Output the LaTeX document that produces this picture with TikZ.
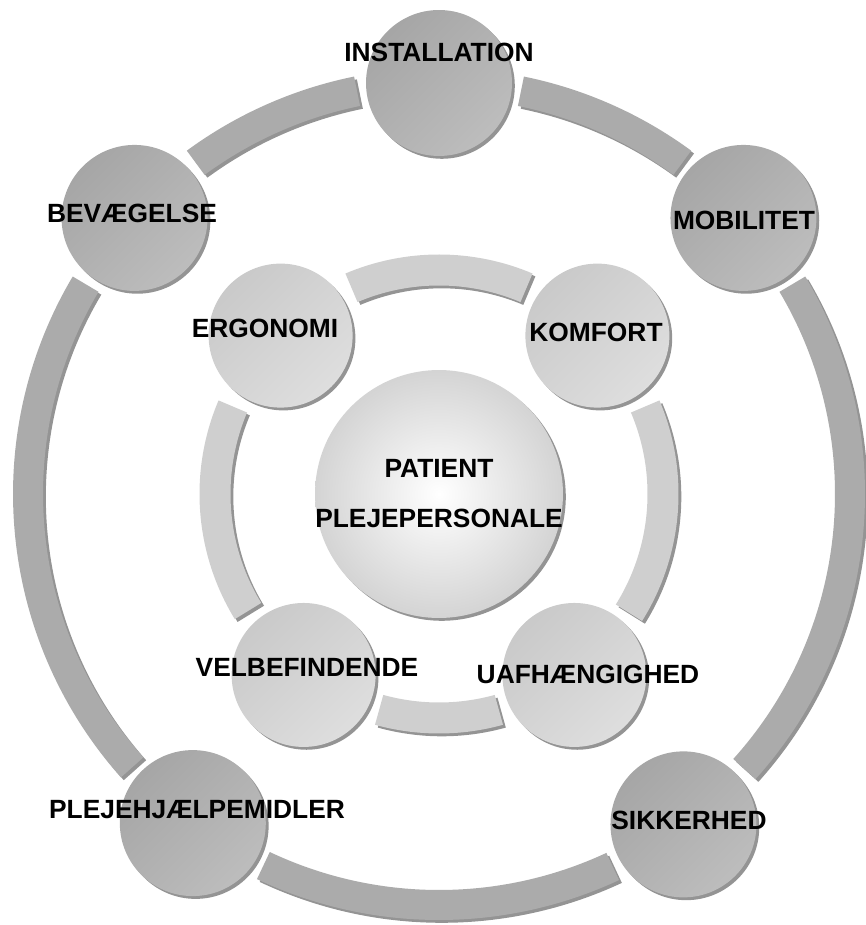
\documentclass[tikz,border=0pt]{standalone}
\usepackage{fontspec}
\setmainfont{Liberation Sans}
\usepackage{tikz}
\usetikzlibrary{shadows}

\begin{document}
\begin{tikzpicture}[
    x=0.02cm, y=0.02cm,
    font=\fontsize{15}{18}\selectfont\bfseries,
    skygge/.style={drop shadow={shadow xshift=1.6pt, shadow yshift=-1.6pt,
                   fill=black!60, opacity=0.7}},
    ydre/.style={circle, minimum size=2.92cm, inner sep=0pt, skygge,
                 top color=black!35, bottom color=black!26, shading angle=45},
    indre/.style={ydre, minimum size=2.88cm,
                  top color=black!21, bottom color=black!13, shading angle=45},
    midte/.style={circle, minimum size=4.96cm, inner sep=0pt, skygge,
                  inner color=white, outer color=black!17},
    ydrebue/.style={fill=black!33, skygge},
    indrebue/.style={fill=black!19, skygge},
    tekst/.style={text=black, inner sep=0pt}
  ]
    \useasboundingbox (-439,-431) rectangle (426,494);
    % ydre ring
    \fill[ydrebue] (53.7:426) arc[start angle=53.7, end angle=78.5, radius=426]
      -- (78.5:396) arc[start angle=78.5, end angle=53.7, radius=396] -- cycle;
    \fill[ydrebue] (101.5:426) arc[start angle=101.5, end angle=126.3, radius=426]
      -- (126.3:396) arc[start angle=126.3, end angle=101.5, radius=396] -- cycle;
    \fill[ydrebue] (149.3:426) arc[start angle=149.3, end angle=221.7, radius=426]
      -- (221.7:396) arc[start angle=221.7, end angle=149.3, radius=396] -- cycle;
    \fill[ydrebue] (244.7:426) arc[start angle=244.7, end angle=295, radius=426]
      -- (295:396) arc[start angle=295, end angle=244.7, radius=396] -- cycle;
    \fill[ydrebue] (318:426) arc[start angle=318, end angle=390.7, radius=426]
      -- (390.7:396) arc[start angle=390.7, end angle=318, radius=396] -- cycle;
    % indre ring
    \fill[indrebue] (67:239.5) arc[start angle=67, end angle=113, radius=239.5]
      -- (113:208.5) arc[start angle=113, end angle=67, radius=208.5] -- cycle;
    \fill[indrebue] (157:239.5) arc[start angle=157, end angle=211.5, radius=239.5]
      -- (211.5:208.5) arc[start angle=211.5, end angle=157, radius=208.5] -- cycle;
    \fill[indrebue] (254.5:239.5) arc[start angle=254.5, end angle=285.5, radius=239.5]
      -- (285.5:208.5) arc[start angle=285.5, end angle=254.5, radius=208.5] -- cycle;
    \fill[indrebue] (328:239.5) arc[start angle=328, end angle=383, radius=239.5]
      -- (383:208.5) arc[start angle=383, end angle=328, radius=208.5] -- cycle;
    \node[midte] (pat) at (0,0) {};
    \node[ydre] (inst) at (90:411) {};
    \node[ydre] (mob) at (42.2:411) {};
    \node[ydre] (bev) at (137.8:411) {};
    \node[ydre] (hjaelp) at (233.2:411) {};
    \node[ydre] (sikk) at (306.5:411) {};
    \node[indre] (ergo) at (135:224) {};
    \node[indre] (komf) at (45:224) {};
    \node[indre] (velb) at (233.2:226) {};
    \node[indre] (uafh) at (306.8:226) {};
    \node[tekst] (tinst) at (0,442) {INSTALLATION};
    \node[tekst] (tbev) at (-307,281) {BEVÆGELSE};
    \node[tekst] (tmob) at (305,274) {MOBILITET};
    \node[tekst] (tergo) at (-174,166) {ERGONOMI};
    \node[tekst] (tkomf) at (157,162) {KOMFORT};
    \node[tekst, align=center, font=\fontsize{15}{28.45}\selectfont\bfseries]
      (tpat) at (0,0) {PATIENT\\PLEJEPERSONALE};
    \node[tekst] (tvelb) at (-132,-173) {VELBEFINDENDE};
    \node[tekst] (tuafh) at (149,-180) {UAFHÆNGIGHED};
    \node[tekst] (thjaelp) at (-242,-316) {PLEJEHJÆLPEMIDLER};
    \node[tekst] (tsikk) at (250,-326) {SIKKERHED};
\end{tikzpicture}
\end{document}
